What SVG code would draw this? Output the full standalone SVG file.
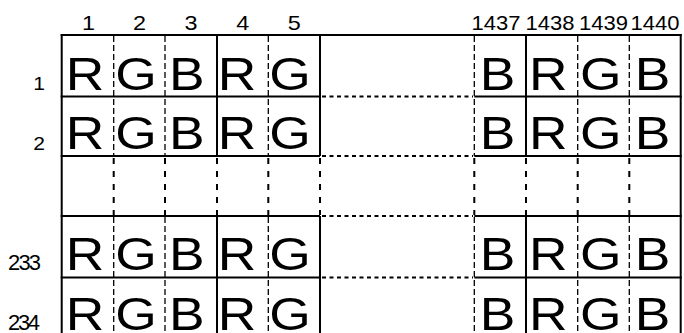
<svg xmlns="http://www.w3.org/2000/svg" width="684" height="333" viewBox="0 0 684 333">
<style>
text{font-family:"Liberation Sans",Arial,sans-serif;fill:#000}
.big{font-size:46px;text-anchor:middle}
.num{font-size:20px;text-anchor:middle}
.rl{font-size:18px;text-anchor:end}
.rl3{font-size:22px}
.s{stroke:#000;stroke-width:2;fill:none}
.d{stroke:#000;stroke-width:1.3;stroke-dasharray:6 3;fill:none}
.e{stroke:#000;stroke-width:2;stroke-dasharray:6 7;fill:none}
.o{stroke:#000;stroke-width:2;stroke-dasharray:4 3.5;fill:none}
</style>
<rect width="684" height="333" fill="#fff"/>
<g id="connectors">
  <path class="s" d="M60.7 35H681.7"/>
  <path class="s" d="M60.7 96.5H320M474.3 96.5H681.7M60.7 156H320M474.3 156H681.7M60.7 216H320M474.3 216H681.7M60.7 277.5H320M474.3 277.5H681.7"/>
  <path class="o" d="M322 96.5H473M322 156H473M322 216H473M322 277.5H473"/>
  <path class="s" d="M61.7 34V333M680.7 34V333M217 35V156M217 216V333M320 35V156M320 216V333M526 35V156M526 216V333"/>
  <path class="e" d="M113.7 158V215M165 158V215M217 158V215M268.3 158V215M320 158V215M474.3 158V215M526 158V215M577.7 158V215M629.3 158V215"/>
  <path class="d" d="M113.7 36V156M165 36V156M268.3 36V156M474.3 36V156M577.7 36V156M629.3 36V156M113.7 217V333M165 217V333M268.3 217V333M474.3 217V333M577.7 217V333M629.3 217V333"/>
</g>
<g id="column-labels">
  <text class="num" transform="translate(88.5 30) scale(1.17 1)">1</text>
  <text class="num" transform="translate(139.5 30) scale(1.17 1)">2</text>
  <text class="num" transform="translate(191 30) scale(1.17 1)">3</text>
  <text class="num" transform="translate(242.7 30) scale(1.17 1)">4</text>
  <text class="num" transform="translate(294.2 30) scale(1.17 1)">5</text>
  <text class="num" transform="translate(496 30) scale(1.1 1)">1437</text>
  <text class="num" transform="translate(550 30) scale(1.1 1)">1438</text>
  <text class="num" transform="translate(603.5 30) scale(1.1 1)">1439</text>
  <text class="num" transform="translate(655 30) scale(1.1 1)">1440</text>
</g>
<g id="row-labels">
  <text class="rl" transform="translate(45 90) scale(1.17 1)">1</text>
  <text class="rl" transform="translate(45 150) scale(1.17 1)">2</text>
  <text class="rl3" x="8" y="270" textLength="33" lengthAdjust="spacing">233</text>
  <text class="rl3" x="8" y="330" textLength="32" lengthAdjust="spacing">234</text>
</g>
<g id="row-1">
  <text class="big" transform="translate(85 90) scale(1.16 1)">R</text>
  <text class="big" transform="translate(136 90) scale(1.16 1)">G</text>
  <text class="big" transform="translate(186.7 90) scale(1.16 1)">B</text>
  <text class="big" transform="translate(237 90) scale(1.16 1)">R</text>
  <text class="big" transform="translate(290 90) scale(1.16 1)">G</text>
  <text class="big" transform="translate(497.5 90) scale(1.16 1)">B</text>
  <text class="big" transform="translate(548.3 90) scale(1.16 1)">R</text>
  <text class="big" transform="translate(600.8 90) scale(1.16 1)">G</text>
  <text class="big" transform="translate(652.5 90) scale(1.16 1)">B</text>
</g>
<g id="row-2">
  <text class="big" transform="translate(85 149) scale(1.16 1)">R</text>
  <text class="big" transform="translate(136 149) scale(1.16 1)">G</text>
  <text class="big" transform="translate(186.7 149) scale(1.16 1)">B</text>
  <text class="big" transform="translate(237 149) scale(1.16 1)">R</text>
  <text class="big" transform="translate(290 149) scale(1.16 1)">G</text>
  <text class="big" transform="translate(497.5 149) scale(1.16 1)">B</text>
  <text class="big" transform="translate(548.3 149) scale(1.16 1)">R</text>
  <text class="big" transform="translate(600.8 149) scale(1.16 1)">G</text>
  <text class="big" transform="translate(652.5 149) scale(1.16 1)">B</text>
</g>
<g id="row-233">
  <text class="big" transform="translate(85 270) scale(1.16 1)">R</text>
  <text class="big" transform="translate(136 270) scale(1.16 1)">G</text>
  <text class="big" transform="translate(186.7 270) scale(1.16 1)">B</text>
  <text class="big" transform="translate(237 270) scale(1.16 1)">R</text>
  <text class="big" transform="translate(290 270) scale(1.16 1)">G</text>
  <text class="big" transform="translate(497.5 270) scale(1.16 1)">B</text>
  <text class="big" transform="translate(548.3 270) scale(1.16 1)">R</text>
  <text class="big" transform="translate(600.8 270) scale(1.16 1)">G</text>
  <text class="big" transform="translate(652.5 270) scale(1.16 1)">B</text>
</g>
<g id="row-234">
  <text class="big" transform="translate(85 329.5) scale(1.16 1)">R</text>
  <text class="big" transform="translate(136 329.5) scale(1.16 1)">G</text>
  <text class="big" transform="translate(186.7 329.5) scale(1.16 1)">B</text>
  <text class="big" transform="translate(237 329.5) scale(1.16 1)">R</text>
  <text class="big" transform="translate(290 329.5) scale(1.16 1)">G</text>
  <text class="big" transform="translate(497.5 329.5) scale(1.16 1)">B</text>
  <text class="big" transform="translate(548.3 329.5) scale(1.16 1)">R</text>
  <text class="big" transform="translate(600.8 329.5) scale(1.16 1)">G</text>
  <text class="big" transform="translate(652.5 329.5) scale(1.16 1)">B</text>
</g>
</svg>
